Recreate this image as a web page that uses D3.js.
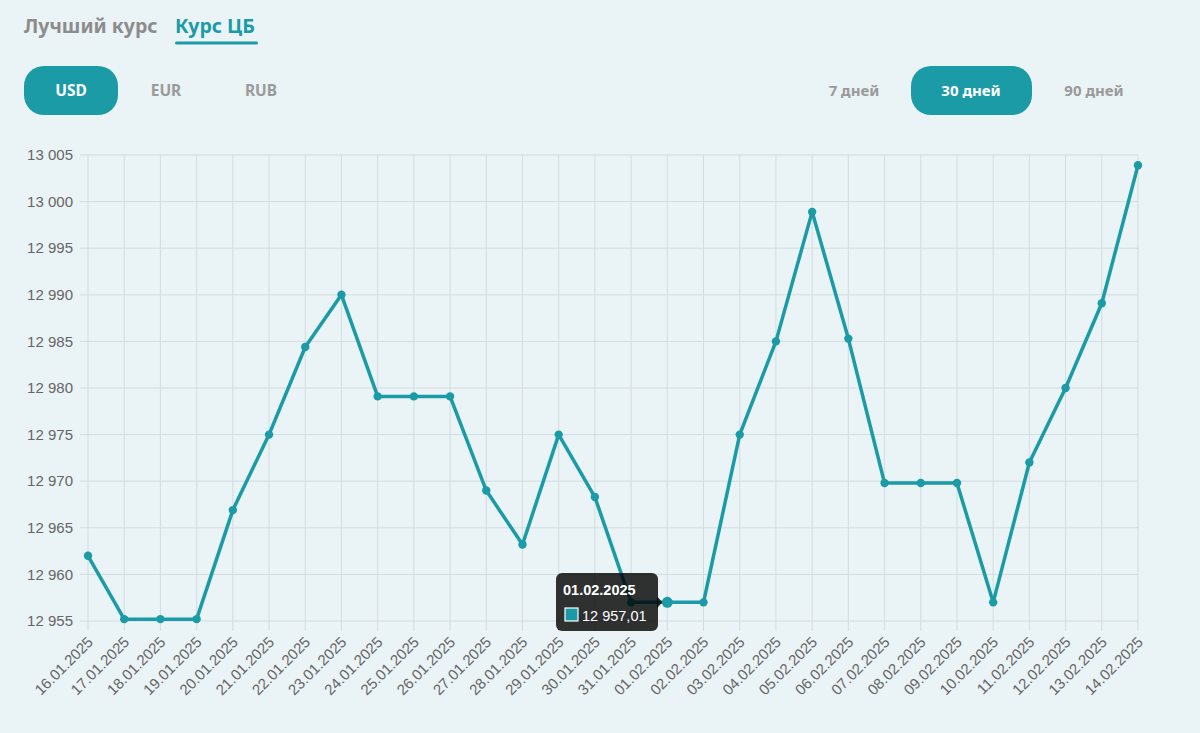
<!DOCTYPE html>
<html>
<head>
<meta charset="utf-8">
<script src="https://cdn.jsdelivr.net/npm/d3@7"></script>
<style>
  html, body { margin: 0; padding: 0; background: #eaf3f5; }
  svg { display: block; }
</style>
</head>
<body>
<div id="chart"></div>
<script>
// dates and CB rate (UZS per USD)
const dates = ["16.01.2025","17.01.2025","18.01.2025","19.01.2025","20.01.2025","21.01.2025","22.01.2025","23.01.2025",
  "24.01.2025","25.01.2025","26.01.2025","27.01.2025","28.01.2025","29.01.2025","30.01.2025","31.01.2025",
  "01.02.2025","02.02.2025","03.02.2025","04.02.2025","05.02.2025","06.02.2025","07.02.2025","08.02.2025",
  "09.02.2025","10.02.2025","11.02.2025","12.02.2025","13.02.2025","14.02.2025"];
const rates = [12962.0, 12955.2, 12955.2, 12955.2, 12966.9, 12975.0, 12984.4, 12990.0,
  12979.1, 12979.1, 12979.1, 12969.0, 12963.2, 12975.0, 12968.3, 12957.0,
  12957.01, 12957.0, 12975.0, 12985.0, 12998.9, 12985.3, 12969.8, 12969.8,
  12969.8, 12957.0, 12972.0, 12980.0, 12989.1, 13003.9];
const yTicks = [12955, 12960, 12965, 12970, 12975, 12980, 12985, 12990, 12995, 13000, 13005];
const tabs = ["Лучший курс", "Курс ЦБ"];
const currencies = ["USD", "EUR", "RUB"];
const periods = ["7 дней", "30 дней", "90 дней"];
const activeIndex = 16; // 01.02.2025 hovered

const W = 1200, H = 733;
const teal = "#1a9ba6";
const plot = {left: 88, right: 1138, top: 155, bottom: 621};

const svg = d3.select("#chart").append("svg")
    .attr("width", W).attr("height", H);

svg.append("rect").attr("width", W).attr("height", H).attr("fill", "#eaf3f5");

// header tabs
const uiFont = "'Noto Sans', Lato, sans-serif";
svg.append("text").attr("x", 24).attr("y", 33)
    .attr("font-family", uiFont).attr("font-weight", 700).attr("font-size", 19.5)
    .attr("fill", "#8c8c8c").text(tabs[0]);
svg.append("text").attr("x", 175).attr("y", 33)
    .attr("font-family", uiFont).attr("font-weight", 700).attr("font-size", 19.5)
    .attr("fill", teal).text(tabs[1]);
svg.append("rect").attr("x", 175).attr("y", 41.5).attr("width", 83).attr("height", 3)
    .attr("rx", 1.5).attr("fill", teal);

// currency buttons
const curX = [71, 166, 261];
currencies.forEach((c, i) => {
    if (i === 0) {
        svg.append("rect").attr("x", 24).attr("y", 66).attr("width", 94).attr("height", 49)
            .attr("rx", 20).attr("fill", teal);
    }
    svg.append("text").attr("x", curX[i]).attr("y", 96)
        .attr("text-anchor", "middle")
        .attr("font-family", uiFont).attr("font-weight", 700).attr("font-size", 15.5)
        .attr("fill", i === 0 ? "#fff" : "#9a9a9a").text(c);
});

// period buttons
const perX = [854, 971, 1094];
periods.forEach((p, i) => {
    if (i === 1) {
        svg.append("rect").attr("x", 911).attr("y", 66).attr("width", 121).attr("height", 49)
            .attr("rx", 20).attr("fill", teal);
    }
    svg.append("text").attr("x", perX[i]).attr("y", 96)
        .attr("text-anchor", "middle")
        .attr("font-family", uiFont).attr("font-weight", 700).attr("font-size", 15)
        .attr("fill", i === 1 ? "#fff" : "#9a9a9a").text(p);
});

// scales
const x = d3.scalePoint().domain(dates).range([plot.left, plot.right]);
const y = d3.scaleLinear().domain([12955, 13005]).range([plot.bottom, plot.top]);

const chartFont = "'Liberation Sans', Arial, sans-serif";
const fmt = v => d3.format(",")(v).replace(/,/g, " ");

// grid
const grid = svg.append("g");
grid.selectAll("line.h").data(yTicks).enter().append("line")
    .attr("x1", plot.left - 8).attr("x2", plot.right)
    .attr("y1", d => y(d)).attr("y2", d => y(d))
    .attr("stroke", "#d3dcdf").attr("stroke-width", 1);
grid.selectAll("line.v").data(dates).enter().append("line")
    .attr("x1", d => x(d)).attr("x2", d => x(d))
    .attr("y1", plot.top).attr("y2", plot.bottom + 10)
    .attr("stroke", "#d3dcdf").attr("stroke-width", 1);

// y axis labels
svg.append("g").selectAll("text").data(yTicks).enter().append("text")
    .attr("x", 73).attr("y", d => y(d)).attr("dy", "0.35em")
    .attr("text-anchor", "end")
    .attr("font-family", chartFont).attr("font-size", 15).attr("fill", "#666")
    .text(fmt);

// x axis labels
svg.append("g").selectAll("text").data(dates).enter().append("text")
    .attr("transform", d => `translate(${x(d) + 6},${plot.bottom + 22}) rotate(-45)`)
    .attr("text-anchor", "end")
    .attr("font-family", chartFont).attr("font-size", 15).attr("fill", "#666")
    .text(d => d);

// line
const line = d3.line().x((d, i) => x(dates[i])).y(d => y(d));
svg.append("path").datum(rates)
    .attr("d", line)
    .attr("fill", "none").attr("stroke", teal).attr("stroke-width", 3.5)
    .attr("stroke-linejoin", "round");

svg.append("g").selectAll("circle").data(rates).enter().append("circle")
    .attr("cx", (d, i) => x(dates[i])).attr("cy", d => y(d))
    .attr("r", (d, i) => i === activeIndex ? 5.5 : 4.2)
    .attr("fill", teal);

// tooltip
const px = x(dates[activeIndex]), py = y(rates[activeIndex]);
const tip = svg.append("g");
const tx = 556, ty = 573, tw = 102, th = 58;
tip.append("path")
    .attr("d", `M${tx + tw - 1},${py - 6} L${px - 5},${py} L${tx + tw - 1},${py + 6} Z`)
    .attr("fill", "rgba(0,0,0,0.8)");
tip.append("rect").attr("x", tx).attr("y", ty).attr("width", tw).attr("height", th)
    .attr("rx", 6).attr("fill", "rgba(0,0,0,0.8)");
tip.append("text").attr("x", tx + 7).attr("y", ty + 22)
    .attr("font-family", chartFont).attr("font-weight", 700).attr("font-size", 14.5)
    .attr("fill", "#fff").text(dates[activeIndex]);
tip.append("rect").attr("x", tx + 9).attr("y", ty + 35).attr("width", 13).attr("height", 13)
    .attr("fill", teal).attr("stroke", "#fff").attr("stroke-width", 1.2);
tip.append("text").attr("x", tx + 26).attr("y", ty + 48)
    .attr("font-family", chartFont).attr("font-size", 14.5)
    .attr("fill", "#fff").text(fmt(rates[activeIndex]).replace(".", ","));
</script>
</body>
</html>
